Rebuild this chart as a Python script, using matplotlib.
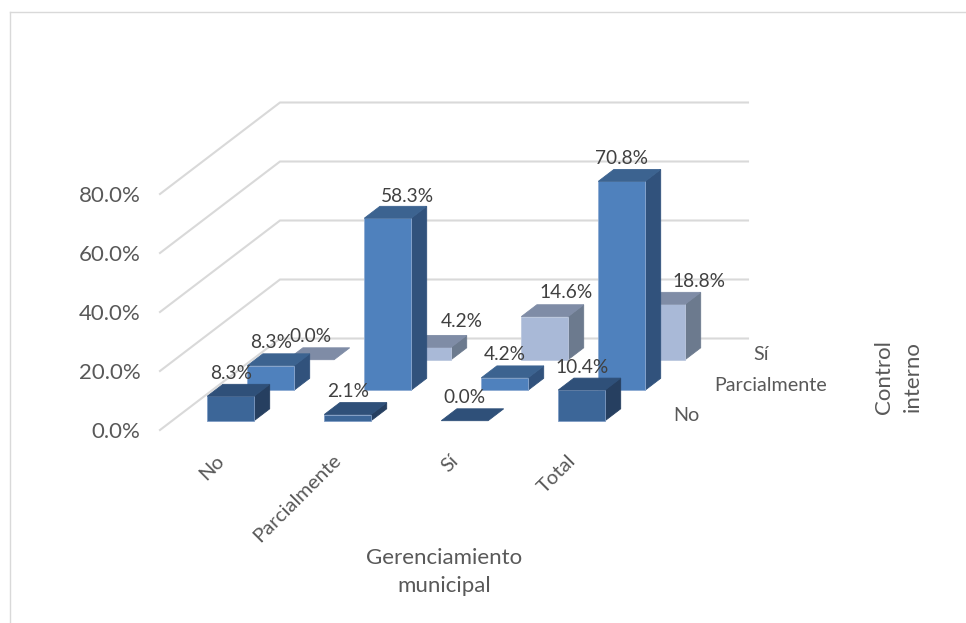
#!/usr/bin/env python
import matplotlib
matplotlib.use("Agg")
import matplotlib.pyplot as plt
from matplotlib.patches import Polygon
from matplotlib.lines import Line2D

plt.rcParams["font.family"] = ["Lato", "DejaVu Sans"]

categories = ["No", "Parcialmente", "Sí", "Total"]
series_names = ["No", "Parcialmente", "Sí"]
values_no = [8.3, 2.1, 0.0, 10.4]
values_parcial = [8.3, 58.3, 4.2, 70.8]
values_si = [0.0, 4.2, 14.6, 18.8]
yticks = [0, 20, 40, 60, 80]

W, H = 966, 623
# front plane of the box, in pixels from the top left
LEFT, RIGHT, FLOOR, TOP80 = 160, 628, 430, 194
# one depth row moves this far in axis units
ROW_DX = 40 / 117.0
ROW_DY = 30.5 * 80 / (FLOOR - TOP80)
BAR_W = 0.4
BAR_D = 0.39

# front, top, side shades per row
shades = [("#3C6698", "#2F5079", "#263F60"),
          ("#4F81BD", "#3C6390", "#31527C"),
          ("#A9B9D7", "#7F8CA6", "#6C7A8E")]
edges = ["#7F9CC4", "#8DABD3", "#BCC8DF"]

# hand placed labels, (row, category): pixel shift
label_nudge = {(1, 1): (19.5, 1), (2, 1): (34, -3), (2, 2): (21, -1), (2, 3): (37, 0)}
# series names sit to the right of the floor, pixel shift per row
series_dx = [38, 83, 33]


def project(cat, depth, val):
    return cat + depth * ROW_DX, val + depth * ROW_DY


def face(ax, pts, color, edge, z):
    xy = [project(*p) for p in pts]
    ax.add_patch(Polygon(xy, closed=True, facecolor=color, edgecolor=edge,
                         linewidth=0.6, zorder=z, clip_on=False))


def draw_bar(ax, cat, row, val, z):
    front, top, side = shades[row]
    edge = edges[row]
    x0 = cat + (1 - BAR_W) / 2
    x1 = x0 + BAR_W
    d0 = row + (1 - BAR_D) / 2
    d1 = d0 + BAR_D
    if val > 0:
        face(ax, [(x1, d0, 0), (x1, d1, 0), (x1, d1, val), (x1, d0, val)], side, side, z)
        face(ax, [(x0, d0, 0), (x1, d0, 0), (x1, d0, val), (x0, d0, val)], front, edge, z + 0.1)
    face(ax, [(x0, d0, val), (x1, d0, val), (x1, d1, val), (x0, d1, val)], top, top, z + 0.1)

    # value label above the back edge of the top
    lx, ly = project(x0 + BAR_W / 2, d1, val)
    nx, ny = label_nudge.get((row, cat), (0, 0))
    # the top face is drawn skewed, so take the label back to the front centre
    lx -= BAR_D * ROW_DX
    ax.annotate("%.1f%%" % val, (lx, ly), xytext=(nx * 0.72, (11 - ny) * 0.72),
                textcoords="offset points", ha="center", va="center",
                fontsize=13.8, color="#404040", zorder=50, annotation_clip=False)


fig = plt.figure(figsize=(W / 100.0, H / 100.0), dpi=100)
ax = fig.add_axes([LEFT / W, 1 - FLOOR / H, (RIGHT - LEFT) / W, (FLOOR - TOP80) / H])
ax.set_xlim(0, len(categories))
ax.set_ylim(0, 80)
ax.patch.set_visible(False)
for s in ax.spines.values():
    s.set_visible(False)

# outer frame of the chart area, only top and left show
fig.add_artist(Line2D([9.5 / W, 1], [1 - 11.5 / H, 1 - 11.5 / H], color="#D9D9D9", lw=1))
fig.add_artist(Line2D([9.5 / W, 9.5 / W], [1 - 11.5 / H, 0], color="#D9D9D9", lw=1))

# wall and back gridlines
n_rows = len(series_names)
for t in yticks:
    a = project(0, 0, t)
    b = project(0, n_rows, t)
    c = project(len(categories), n_rows, t)
    ax.plot([a[0], b[0], c[0]], [a[1], b[1], c[1]], color="#D9D9D9", lw=1.5,
            solid_joinstyle="miter", clip_on=False, zorder=1)

rows = [values_no, values_parcial, values_si]
for row in range(n_rows - 1, -1, -1):
    for cat, val in enumerate(rows[row]):
        draw_bar(ax, cat, row, val, 10 + (n_rows - row) * 2)

ax.set_yticks(yticks)
ax.set_yticklabels(["%.1f%%" % t for t in yticks], fontsize=16, color="#595959")
ax.tick_params(axis="y", length=0, pad=14)
ax.set_xticks([i + 0.475 for i in range(len(categories))])
ax.set_xticklabels(categories, rotation=45, ha="right", rotation_mode="anchor",
                   fontsize=14.6, color="#595959")
ax.tick_params(axis="x", length=0, pad=15.5)

# series names along the depth axis
for row, name in enumerate(series_names):
    px, py = project(len(categories), row + 0.5, 0)
    ax.annotate(name, (px, py), xytext=(series_dx[row] * 0.72, -1 * 0.72),
                textcoords="offset points", ha="center", va="center", fontsize=14.2,
                color="#595959", annotation_clip=False)

fig.text(444 / W, 1 - 572 / H, "Gerenciamiento\nmunicipal", ha="center", va="center",
         fontsize=16, color="#595959", linespacing=1.55)
fig.text(898 / W, 1 - 377 / H, "Control\ninterno", ha="center", va="center", rotation=90,
         fontsize=16, color="#595959", linespacing=1.55)

fig.savefig("out.png", dpi=100)
